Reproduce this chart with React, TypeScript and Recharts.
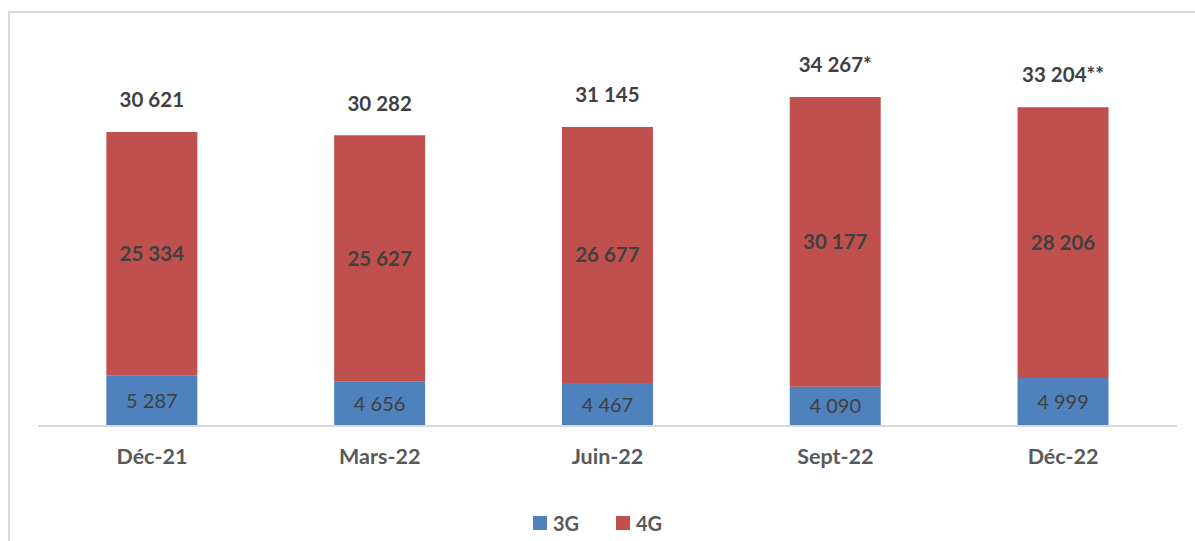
import { Bar, BarChart, LabelList, Legend, XAxis, YAxis } from 'recharts';

const periods = ['Déc-21', 'Mars-22', 'Juin-22', 'Sept-22', 'Déc-22'];
const values3G = [5287, 4656, 4467, 4090, 4999];
const values4G = [25334, 25627, 26677, 30177, 28206];
const totalLabels = ['30 621', '30 282', '31 145', '34 267*', '33 204**'];

const BLUE = '#4F81BD';
const RED = '#C0504D';
const FONT = 'Lato, "Open Sans", sans-serif';

const data = periods.map((p, i) => ({
  period: p,
  g3: values3G[i],
  g4: values4G[i],
  total: totalLabels[i],
}));

const fmt = (v: number) => v.toLocaleString('fr-FR').replace(/\s/g, ' ');

const TotalLabel = (props: any) => {
  const { x, y, width, value } = props;
  return (
    <text
      x={x + width / 2}
      y={y - 30}
      textAnchor="middle"
      dominantBaseline="middle"
      fill="#404040"
      fontSize={20.5}
      fontWeight={700}
      fontFamily={FONT}
    >
      {value}
    </text>
  );
};

const LegendContent = () => (
  <div
    style={{
      display: 'flex',
      justifyContent: 'center',
      gap: 37,
      fontFamily: FONT,
      fontSize: 20,
      fontWeight: 700,
      color: '#595959',
      height: 20,
    }}
  >
    {[
      ['3G', BLUE],
      ['4G', RED],
    ].map(([name, color]) => (
      <div key={name} style={{ display: 'flex', alignItems: 'center', gap: 6 }}>
        <span style={{ width: 14, height: 14, background: color, display: 'inline-block' }} />
        <span>{name}</span>
      </div>
    ))}
  </div>
);

export default function App() {
  return (
    <div
      style={{
        position: 'absolute',
        left: 0,
        top: 0,
        width: 1195,
        height: 541,
        overflow: 'hidden',
        background: '#fff',
      }}
    >
      <div
        style={{
          position: 'absolute',
          left: 8,
          top: 11,
          width: 1300,
          height: 700,
          border: '2px solid #d9d9d9',
        }}
      />
      <BarChart
        width={1195}
        height={541}
        data={data}
        margin={{ top: 42, right: 18, left: 38, bottom: 65 }}
        barCategoryGap="30%"
      >
        <XAxis
          dataKey="period"
          axisLine={{ stroke: '#d9d9d9', strokeWidth: 2 }}
          tickLine={false}
          tick={{ fill: '#595959', fontSize: 21.5, fontWeight: 700, fontFamily: FONT }}
          tickMargin={17}
          height={30}
        />
        <YAxis hide domain={[0, 40000]} />
        <Legend
          verticalAlign="bottom"
          content={<LegendContent />}
          wrapperStyle={{ position: 'absolute', left: 0, width: 1195, top: 513 }}
        />
        <Bar dataKey="g3" stackId="a" fill={BLUE} isAnimationActive={false}>
          <LabelList
            dataKey="g3"
            position="center"
            formatter={(v: any) => fmt(Number(v))}
            style={{ fill: '#404040', fontSize: 20, fontFamily: FONT }}
          />
        </Bar>
        <Bar dataKey="g4" stackId="a" fill={RED} isAnimationActive={false}>
          <LabelList
            dataKey="g4"
            position="center"
            formatter={(v: any) => fmt(Number(v))}
            style={{ fill: '#404040', fontSize: 20.5, fontWeight: 700, fontFamily: FONT }}
          />
          <LabelList dataKey="total" content={<TotalLabel />} />
        </Bar>
      </BarChart>
    </div>
  );
}
